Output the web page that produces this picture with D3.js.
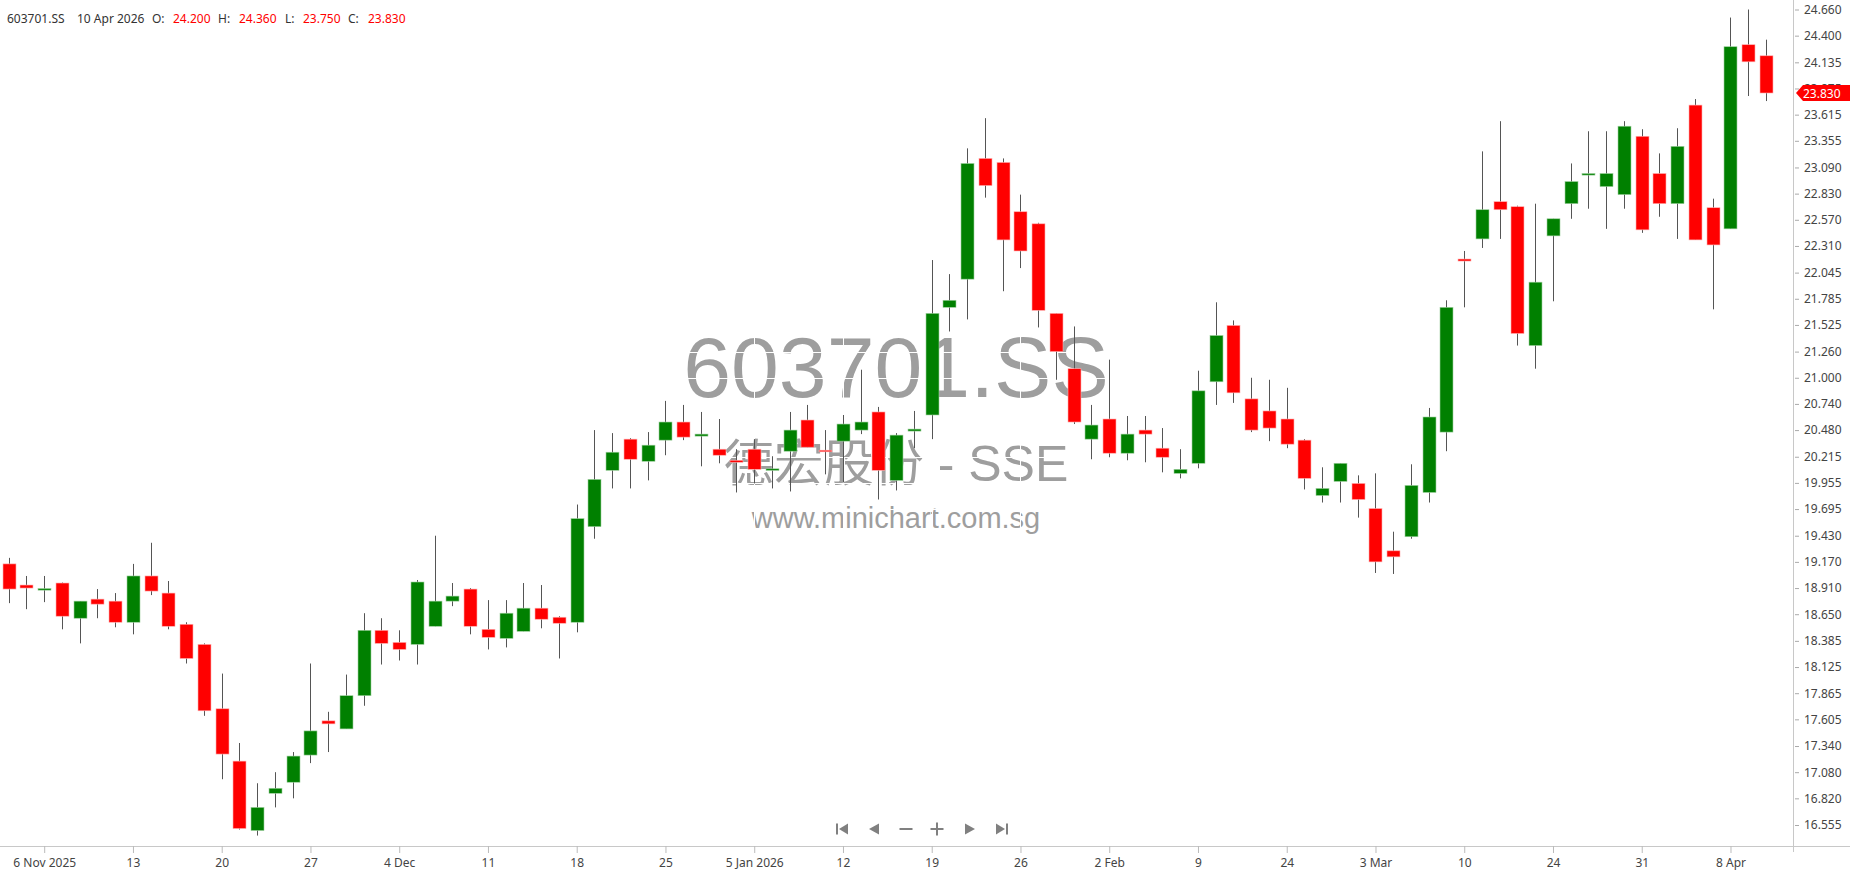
<!DOCTYPE html>
<html>
<head>
<meta charset="utf-8">
<script src="https://cdn.jsdelivr.net/npm/d3@7"></script>
<style>
  html, body { margin: 0; padding: 0; background: #fff; }
  svg { display: block; font-family: "Segoe UI", "Noto Sans", sans-serif; }
</style>
</head>
<body>
<svg id="chart" width="1850" height="874"></svg>
<script>
"use strict";

// Daily candles, 4 Nov 2025 .. 10 Apr 2026
const symbol = "603701.SS";
const companyName = "德宏股份 - SSE";
const siteName = "www.minichart.com.sg";
const lastDate = "10 Apr 2026";

const open = [
  19.15, 18.94, 18.895, 18.96, 18.61, 18.80, 18.78, 18.57, 19.03, 18.86,
  18.55, 18.35, 17.71, 17.19, 16.50, 16.87, 16.98, 17.25, 17.59, 17.51,
  17.84, 18.49, 18.37, 18.35, 18.53, 18.78, 18.90, 18.50, 18.41, 18.48,
  18.71, 18.62, 18.57, 19.52, 20.08, 20.39, 20.17, 20.38, 20.56, 20.42,
  20.29, 20.18, 20.29, 20.085, 20.27, 20.58, 20.28, 20.37, 20.48, 20.66,
  19.98, 20.47, 20.63, 21.70, 21.98, 23.18, 23.14, 22.65, 22.53, 21.64,
  21.09, 20.39, 20.59, 20.25, 20.48, 20.30, 20.05, 20.15, 20.96, 21.52,
  20.79, 20.67, 20.59, 20.38, 19.83, 19.97, 19.95, 19.70, 19.28, 19.42,
  19.86, 20.46, 22.18, 22.38, 22.75, 22.70, 21.32, 22.41, 22.73, 23.02,
  22.90, 22.82, 23.40, 23.03, 22.73, 23.71, 22.69, 22.48, 24.31, 24.20
];
const high = [
  19.21, 19.03, 19.03, 18.965, 18.78, 18.90, 18.86, 19.15, 19.36, 18.98,
  18.57, 18.36, 18.06, 17.37, 16.97, 17.08, 17.28, 18.16, 17.68, 18.05,
  18.66, 18.61, 18.49, 18.99, 19.43, 18.96, 18.91, 18.79, 18.79, 18.96,
  18.94, 18.63, 19.74, 20.48, 20.45, 20.40, 20.46, 20.77, 20.73, 20.66,
  20.59, 20.29, 20.39, 20.22, 20.66, 20.73, 20.48, 20.63, 21.08, 20.71,
  20.45, 20.67, 22.17, 22.03, 23.28, 23.58, 23.18, 22.82, 22.54, 21.64,
  21.51, 20.73, 21.18, 20.62, 20.62, 20.50, 20.29, 21.07, 21.75, 21.57,
  21.00, 20.98, 20.90, 20.39, 20.11, 20.15, 20.03, 20.05, 19.47, 20.14,
  20.70, 21.77, 22.26, 23.25, 23.55, 22.71, 22.73, 22.58, 23.13, 23.45,
  23.45, 23.55, 23.47, 23.23, 23.48, 23.77, 22.78, 24.58, 24.66, 24.36
];
const low = [
  18.76, 18.70, 18.77, 18.50, 18.36, 18.61, 18.52, 18.45, 18.84, 18.50,
  18.16, 17.64, 17.01, 16.51, 16.45, 16.73, 16.82, 17.17, 17.28, 17.51,
  17.74, 18.15, 18.19, 18.15, 18.53, 18.73, 18.45, 18.30, 18.32, 18.48,
  18.51, 18.21, 18.47, 19.40, 19.90, 19.90, 19.98, 20.23, 20.38, 20.12,
  20.15, 19.86, 19.95, 19.90, 19.87, 20.31, 20.04, 19.96, 20.44, 19.79,
  19.88, 20.30, 20.39, 21.46, 21.58, 22.79, 21.86, 22.09, 21.50, 20.98,
  20.54, 20.19, 20.21, 20.18, 20.16, 20.06, 20.00, 20.10, 20.73, 20.75,
  20.46, 20.37, 20.30, 19.89, 19.76, 19.76, 19.61, 19.06, 19.05, 19.40,
  19.76, 20.27, 21.70, 22.29, 22.38, 21.32, 21.09, 21.76, 22.58, 22.68,
  22.48, 22.68, 22.44, 22.60, 22.38, 22.37, 21.68, 22.48, 23.80, 23.75
];
const close = [
  18.90, 18.91, 18.905, 18.63, 18.78, 18.75, 18.57, 19.03, 18.88, 18.53,
  18.21, 17.69, 17.26, 16.52, 16.73, 16.92, 17.24, 17.49, 17.56, 17.84,
  18.49, 18.36, 18.30, 18.97, 18.78, 18.83, 18.53, 18.42, 18.66, 18.71,
  18.60, 18.56, 19.60, 19.99, 20.26, 20.19, 20.33, 20.56, 20.41, 20.44,
  20.23, 20.16, 20.09, 20.095, 20.48, 20.31, 20.27, 20.54, 20.56, 20.08,
  20.43, 20.49, 21.64, 21.77, 23.13, 22.91, 22.37, 22.26, 21.67, 21.26,
  20.56, 20.53, 20.25, 20.44, 20.44, 20.21, 20.09, 20.87, 21.42, 20.85,
  20.48, 20.50, 20.34, 20.00, 19.90, 20.15, 19.79, 19.17, 19.22, 19.93,
  20.61, 21.70, 22.16, 22.67, 22.67, 21.44, 21.95, 22.58, 22.95, 23.03,
  23.03, 23.50, 22.47, 22.73, 23.30, 22.37, 22.32, 24.29, 24.14, 23.83
];

const priceTicks = [
  16.555, 16.820, 17.080, 17.340, 17.605, 17.865, 18.125, 18.385,
  18.650, 18.910, 19.170, 19.430, 19.695, 19.955, 20.215, 20.480,
  20.740, 21.000, 21.260, 21.525, 21.785, 22.045, 22.310, 22.570,
  22.830, 23.090, 23.355, 23.615, 23.875, 24.135, 24.400, 24.660
];

// candle index of each date label on the time axis
const tickIndex = [2, 7, 12, 17, 22, 27, 32, 37, 42, 47, 52, 57, 62, 67, 72, 77, 82, 87, 92, 97];
const tickLabels = ["6 Nov 2025", "13", "20", "27", "4 Dec", "11", "18", "25", "5 Jan 2026", "12",
                    "19", "26", "2 Feb", "9", "24", "3 Mar", "10", "24", "31", "8 Apr"];

const W = 1850, H = 874;
const plotRight = 1793, plotBottom = 846;
const UP = "#008000", DOWN = "#ff0000";

const svg = d3.select("#chart");
svg.append("rect").attr("width", W).attr("height", H).attr("fill", "#fff");

const candles = open.map((o, i) => ({ i: i, o: o, h: high[i], l: low[i], c: close[i] }));

const x = d3.scaleLinear().domain([0, candles.length - 1]).range([8.7, 1766]);
const y = d3.scaleLinear().domain([16.555, 24.660]).range([825, 9.5]);

// watermark
const wm = svg.append("g").attr("fill", "#9e9e9e").attr("text-anchor", "middle")
  .style("font-family", "'Liberation Sans', Arial, 'Noto Sans CJK SC', sans-serif");
wm.append("text").attr("x", 896).attr("y", 397).attr("font-size", 86).text(symbol);
wm.append("text").attr("x", 896).attr("y", 481).attr("font-size", 50)
  .style("font-family", "'Liberation Sans', 'Noto Sans CJK SC', sans-serif").text(companyName);
wm.append("text").attr("x", 896).attr("y", 528).attr("font-size", 29).text(siteName);

// grid lines are white: only visible where they cut the watermark
const grid = svg.append("g").attr("stroke", "#fff").attr("stroke-width", 1);
grid.selectAll("line.h")
  .data(priceTicks)
  .enter()
  .append("line")
    .attr("x1", 0).attr("x2", plotRight)
    .attr("y1", d => Math.round(y(d)) + 0.5)
    .attr("y2", d => Math.round(y(d)) + 0.5);
grid.selectAll("line.v")
  .data(tickIndex)
  .enter()
  .append("line")
    .attr("y1", 0).attr("y2", plotBottom)
    .attr("x1", d => Math.round(x(d)) + 0.5)
    .attr("x2", d => Math.round(x(d)) + 0.5);

// candles
const bodyW = 13;
const cg = svg.append("g");
cg.selectAll("line.wick")
  .data(candles)
  .enter()
  .append("line")
    .attr("class", "wick")
    .attr("x1", d => Math.round(x(d.i)) + 0.5)
    .attr("x2", d => Math.round(x(d.i)) + 0.5)
    .attr("y1", d => y(d.h))
    .attr("y2", d => y(d.l))
    .attr("stroke", "#555")
    .attr("stroke-width", 1);

cg.selectAll("rect.body")
  .data(candles)
  .enter()
  .append("rect")
    .attr("class", "body")
    .attr("x", d => Math.round(x(d.i)) - Math.floor(bodyW / 2))
    .attr("width", bodyW)
    .attr("y", d => y(Math.max(d.o, d.c)))
    .attr("height", d => Math.max(1.6, Math.abs(y(d.o) - y(d.c))))
    .attr("fill", d => d.c >= d.o ? UP : DOWN)
    .attr("stroke", d => d.c >= d.o ? "#9fd09f" : "#ffb0b0")
    .attr("stroke-width", 0.6);

// axes
svg.append("line")
  .attr("x1", plotRight + 0.5).attr("x2", plotRight + 0.5)
  .attr("y1", 0).attr("y2", plotBottom + 6)
  .attr("stroke", "#c8c8c8");
svg.append("line")
  .attr("x1", 0).attr("x2", W)
  .attr("y1", plotBottom + 0.5).attr("y2", plotBottom + 0.5)
  .attr("stroke", "#c8c8c8");

const yAxis = svg.append("g")
  .attr("transform", `translate(${plotRight + 2},0)`)
  .call(d3.axisRight(y).tickValues(priceTicks).tickFormat(d3.format(".3f")).tickSize(4).tickPadding(5));
yAxis.select(".domain").remove();
yAxis.selectAll("line").attr("stroke", "#aaa");
yAxis.selectAll("text").attr("fill", "#444").attr("font-size", 12)
  .style("font-family", "'Segoe UI', 'Noto Sans', sans-serif");

const xAxis = svg.append("g")
  .attr("transform", `translate(0,${plotBottom})`)
  .call(d3.axisBottom(x).tickValues(tickIndex).tickFormat((d, i) => tickLabels[i]).tickSize(7).tickPadding(5));
xAxis.select(".domain").remove();
xAxis.selectAll("line").attr("stroke", "#bbb");
xAxis.selectAll("text").attr("fill", "#444").attr("font-size", 12)
  .style("font-family", "'Segoe UI', 'Noto Sans', sans-serif");

// last price tag
const last = candles[candles.length - 1];
const ty = Math.round(y(last.c));
svg.append("path")
  .attr("d", `M${plotRight + 3},${ty} L${plotRight + 10},${ty - 8} L${W},${ty - 8} L${W},${ty + 8} L${plotRight + 10},${ty + 8} Z`)
  .attr("fill", DOWN);
svg.append("text")
  .attr("x", plotRight + 10).attr("y", ty + 4.5)
  .attr("fill", "#fff").attr("font-size", 12)
  .text(d3.format(".3f")(last.c));

// header line
const fmt = d3.format(".3f");
const header = [
  { t: symbol, x: 7, c: "#333" },
  { t: lastDate, x: 77, c: "#333" },
  { t: "O:", x: 152, c: "#333" },
  { t: fmt(last.o), x: 173, c: DOWN },
  { t: "H:", x: 218, c: "#333" },
  { t: fmt(last.h), x: 239, c: DOWN },
  { t: "L:", x: 285, c: "#333" },
  { t: fmt(last.l), x: 303, c: DOWN },
  { t: "C:", x: 348, c: "#333" },
  { t: fmt(last.c), x: 368, c: DOWN }
];
svg.append("g").selectAll("text")
  .data(header)
  .enter()
  .append("text")
    .attr("x", d => d.x).attr("y", 22.5)
    .attr("font-size", 12)
    .attr("fill", d => d.c)
    .text(d => d.t);

// navigation buttons
const nav = svg.append("g").attr("fill", "#808080").attr("stroke", "#808080");
const ny = 829;
function navAt(cx) { return nav.append("g").attr("transform", `translate(${cx},${ny})`); }
navAt(842).call(g => {
  g.append("rect").attr("x", -6).attr("y", -5.5).attr("width", 2).attr("height", 11).attr("stroke", "none");
  g.append("path").attr("d", "M-3,0 L6,-5.5 L6,5.5 Z").attr("stroke", "none");
});
navAt(874).append("path").attr("d", "M-5,0 L5,-5.5 L5,5.5 Z").attr("stroke", "none");
navAt(906).append("rect").attr("x", -6.5).attr("y", -1).attr("width", 13).attr("height", 2).attr("stroke", "none");
navAt(937).call(g => {
  g.append("rect").attr("x", -6.5).attr("y", -1).attr("width", 13).attr("height", 2).attr("stroke", "none");
  g.append("rect").attr("x", -1).attr("y", -6.5).attr("width", 2).attr("height", 13).attr("stroke", "none");
});
navAt(970).append("path").attr("d", "M5,0 L-5,-5.5 L-5,5.5 Z").attr("stroke", "none");
navAt(1002).call(g => {
  g.append("rect").attr("x", 4).attr("y", -5.5).attr("width", 2).attr("height", 11).attr("stroke", "none");
  g.append("path").attr("d", "M3,0 L-6,-5.5 L-6,5.5 Z").attr("stroke", "none");
});
</script>
</body>
</html>
